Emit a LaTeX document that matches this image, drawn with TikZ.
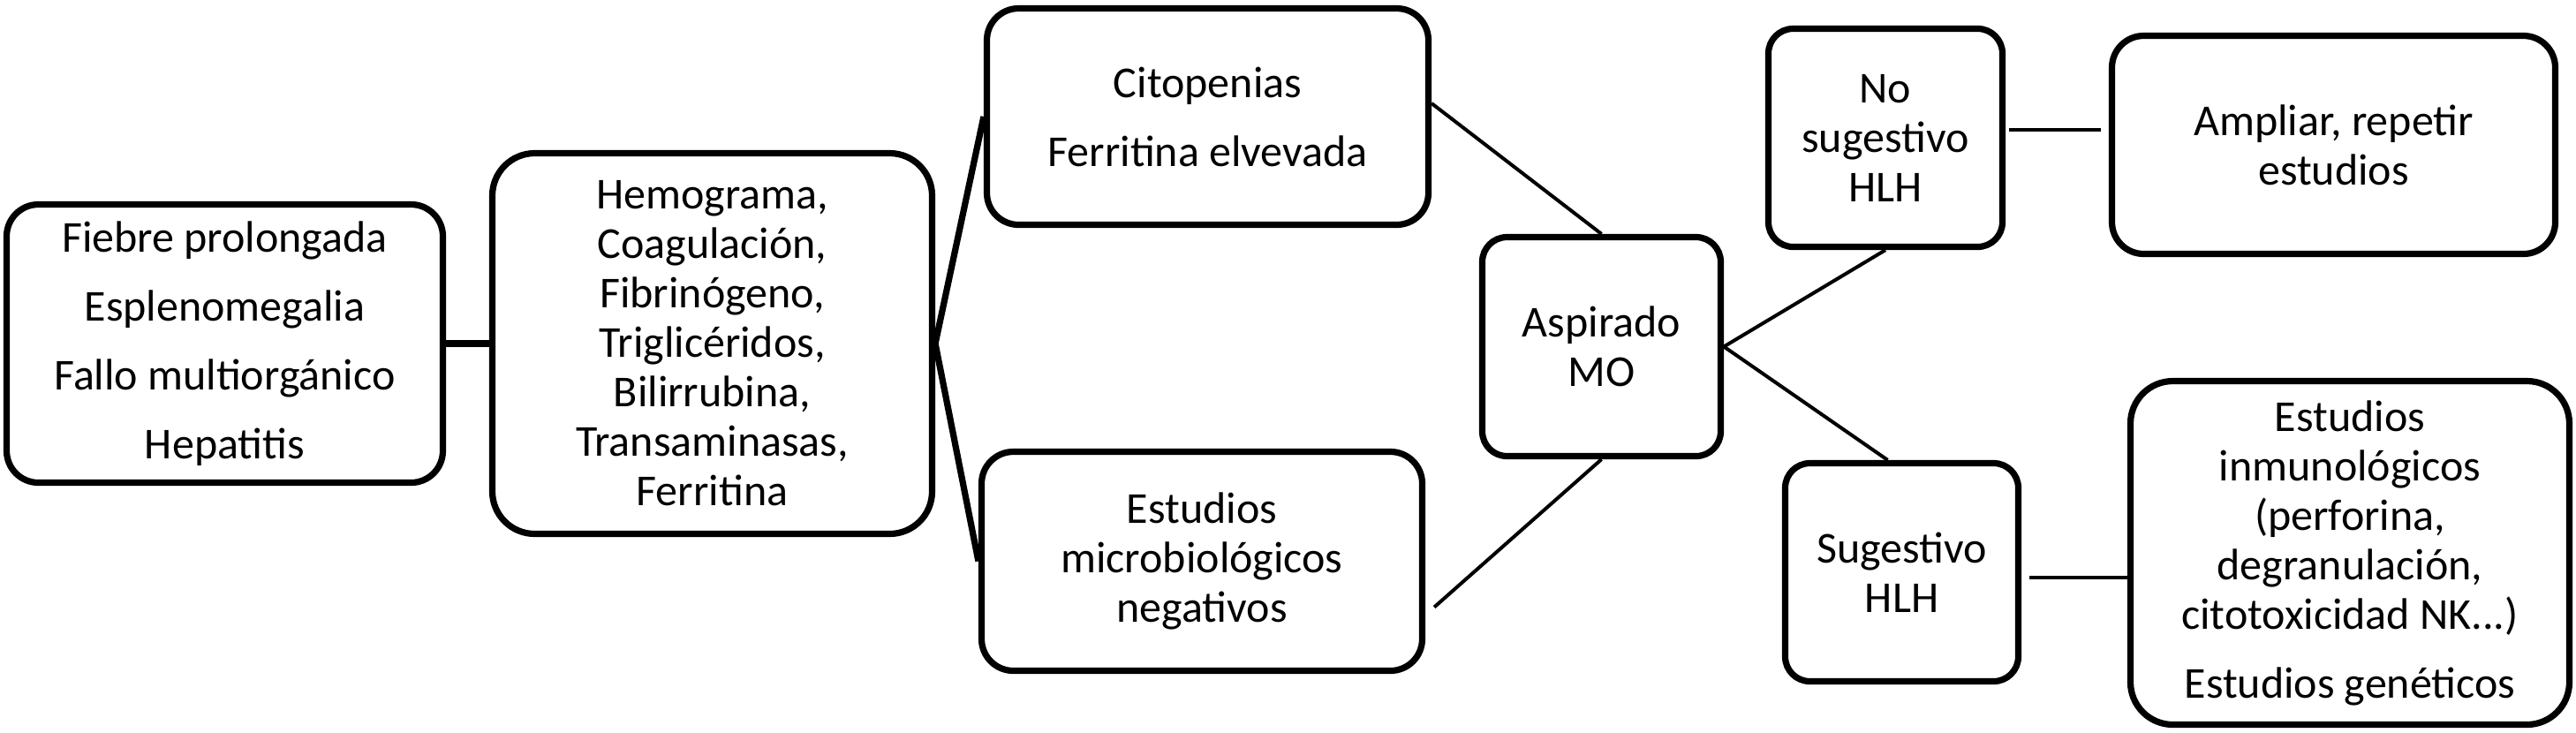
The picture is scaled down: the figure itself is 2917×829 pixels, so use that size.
\documentclass[tikz,border=0pt]{standalone}
\usepackage{fontspec}
\setmainfont{Carlito}
\usetikzlibrary{calc}
\begin{document}
\begin{tikzpicture}[x=0.25pt,y=-0.25pt,
  box/.style={draw, line width=1.8pt, rounded corners=9pt, align=center, inner sep=0pt,
    font=\fontsize{12.5}{14}\selectfont},
  boldlink/.style={line width=1.8pt},
  thinlink/.style={line width=1pt}]
\useasboundingbox (0,0) rectangle (2917,829);
\node[box, minimum width=123.5pt, minimum height=78.75pt] (b1) at (254.5,389)
  {Fiebre prolongada\\[5.5pt]Esplenomegalia\\[5.5pt]Fallo multiorgánico\\[5.5pt]Hepatitis};
\node[box, rounded corners=12pt, minimum width=124.5pt, minimum height=107.75pt] (b2) at (806.5,389)
  {Hemograma,\\Coagulación,\\Fibrinógeno,\\Triglicéridos,\\Bilirrubina,\\Transaminasas,\\Ferritina};
\node[box, minimum width=125pt, minimum height=61.25pt] (b3) at (1367.5,132)
  {Citopenias\\[5.5pt]Ferritina elvevada};
\node[box, minimum width=124.75pt, minimum height=62pt] (b4) at (1361,635.5)
  {Estudios\\microbiológicos\\negativos};
\node[box, rounded corners=7pt, minimum width=67.5pt, minimum height=62pt] (b5) at (1813.5,392.5)
  {Aspirado\\MO};
\node[box, rounded corners=7pt, minimum width=66.25pt, minimum height=61.75pt] (b6) at (2135,156)
  {No\\sugestivo\\HLH};
\node[box, minimum width=125.5pt, minimum height=61.75pt] (b7) at (2642.5,164)
  {Ampliar, repetir\\estudios};
\node[box, rounded corners=7pt, minimum width=66pt, minimum height=61.75pt] (b8) at (2153.5,648)
  {Sugestivo\\HLH};
\node[box, rounded corners=12pt, minimum width=124.25pt, minimum height=97.25pt] (b9) at (2661,626)
  {Estudios\\inmunológicos\\(perforina,\\degranulación,\\citotoxicidad NK...)\\[5.5pt]Estudios genéticos};
\draw[boldlink] (b1.east) -- (b2.west);
\draw[boldlink] (b2.east) -- (b3.west);
\draw[boldlink] (b2.east) -- (b4.west);
\draw[thinlink] ([yshift=3.75pt]b3.east) -- (b5.north);
\draw[thinlink] ([shift={(2.5pt,-13pt)}]b4.east) -- (b5.south);
\draw[thinlink] (b5.east) -- (b6.south);
\draw[thinlink] (b5.east) -- ([xshift=-4pt]b8.north);
\draw[thinlink] ([shift={(1pt,2.25pt)}]b6.east) coordinate (p6) -- ($(b7.west |- p6)+(-2.25pt,0)$);
\draw[thinlink] ([shift={(2.25pt,-1.5pt)}]b8.east) coordinate (p8) -- (b9.west |- p8);
\end{tikzpicture}
\end{document}
